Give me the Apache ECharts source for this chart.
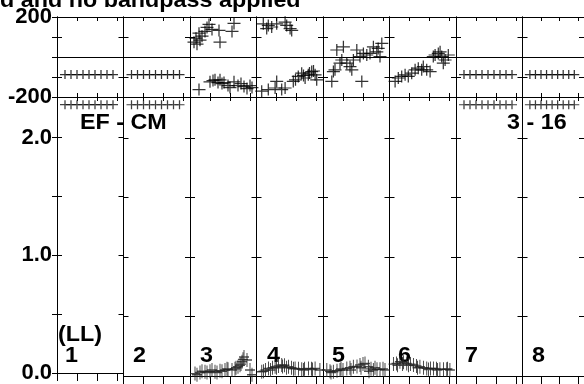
<!DOCTYPE html>
<html><head><meta charset="utf-8">
<script src="https://cdn.jsdelivr.net/npm/echarts@6/dist/echarts.min.js"></script>
<style>html,body{margin:0;padding:0;background:#fff}#c{width:584px;height:384px}</style>
</head><body><div id="c"></div>
<script>
// ---- data (channel, value) per IF panel ----
const panelNames = ['1','2','3','4','5','6','7','8'];
const phaseTickLabels = ['-200','200'];
const ampTickLabels = ['0.0','1.0','2.0'];
const titleText = 'd and no bandpass applied';
const baselineText = 'EF - CM';
const timeText = '3 - 16';
const polText = '(LL)';

const phaseIF1 = [[4,-88],[7,-88],[10,-88],[13,-88],[16,-88],[19,-88],[22,-88],[25,-88],[28,-88]];
const phaseIF2 = [[4,-88],[7,-88],[10,-88],[13,-88],[16,-88],[19,-88],[22,-88],[25,-88],[28,-88]];
const phaseIF3 = [[2,74],[3.5,64],[3,94],[5,84],[6,104],[4.5,119],[7.5,128],[8.5,148],[9.5,163],[11,138],[14.5,133],[15,74],[21,128],[22,168],
  [4.5,-163],[10,-124],[11.5,-118],[12.5,-114],[14,-128],[15,-114],[16,-133],[17,-128],[19,-143],[20,-153],[22,-124],[24,-143],[25.5,-133],[27,-148],[28.5,-158],[30,-143],[31,-153]];
const phaseIF4 = [[3.4,166],[5.1,142],[5.9,158],[7.6,150],[10.1,166],[14.3,174],[15.1,158],[16.8,142],[17.6,133],
  [2.6,-171],[5.9,-163],[9.3,-155],[10.1,-122],[12.6,-163],[14.3,-155],[18.4,-122],[19.5,-114],[20.9,-97],[22.6,-81],[23.5,-92],[24.3,-105],[25.9,-89],[26.5,-80],[27.6,-73],[28.5,-70],[29.3,-89],[30.1,-114]];
const phaseIF5 = [[6.9,35],[10.2,51],[9.4,-15],[8.5,-31],[11.9,-31],[13.5,-48],[15.2,-15],[16.9,35],[18.5,2],[20.2,18],[21.9,10],[23.5,18],[25.2,51],[26.9,26],[28.5,2],[29.4,68],[5.2,-73],[4.4,-122],[19.4,-122],[6,-64],[14.4,-64],[27.6,43]];
const phaseIF6 = [[2.8,-122],[4.4,-105],[6.1,-97],[7.8,-89],[9.4,-97],[11.1,-81],[12.8,-64],[14.4,-56],[16.1,-64],[16.9,-48],[18.6,-64],[20.3,-73],[22.8,10],[24.4,18],[26.1,2],[27.8,-15],[29.4,10],[26.9,-31],[21.9,2],[25.3,26]];
const phaseIF7 = [[4,-88],[7,-88],[10,-88],[13,-88],[16,-88],[19,-88],[22,-88],[25,-88],[28,-88]];
const phaseIF8 = [[4,-88],[7,-88],[10,-88],[13,-88],[16,-88],[19,-88],[22,-88],[25,-88],[28,-88]];

const ampIF1 = [[4,2.28],[7,2.28],[10,2.28],[13,2.28],[16,2.28],[19,2.28],[22,2.28],[25,2.28],[28,2.28]];
const ampIF2 = [[4,2.28],[7,2.28],[10,2.28],[13,2.28],[16,2.28],[19,2.28],[22,2.28],[25,2.28],[28,2.28]];
const ampIF3 = [[2.5,0.02],[5,0.03],[7.5,0.036],[10,0.04],[12.5,0.036],[15,0.045],[17.5,0.05],[19,0.056],[22.5,0.06],[24,0.078],[25.5,0.1],[26,0.12],[26.5,0.14],[27,0.16],[28.5,0.134],[30,0.05],[31,0.01],
  [3.5,0.01],[6,0.04],[8.5,0.03],[11,0.05],[13.5,0.03],[16,0.04],[18.5,0.06],[21,0.05],[23,0.07],[25,0.09]];
const ampIF4 = [[2.6,0.036],[4.5,0.05],[6,0.064],[8,0.07],[9.3,0.078],[11,0.085],[12.6,0.092],[14,0.09],[16,0.078],[17.5,0.07],[19.3,0.064],[21,0.06],[22.6,0.056],[24,0.06],[26,0.064],[27.5,0.06],[29.3,0.064],[31.7,0.05],
  [3.5,0.04],[7,0.05],[10,0.07],[13,0.08],[15,0.07],[18.5,0.06],[23.5,0.05],[28,0.055]];
const ampIF5 = [[1.9,0.05],[3.5,0.04],[5.2,0.036],[7,0.045],[8.5,0.05],[10,0.05],[11.9,0.064],[13.5,0.07],[15.2,0.078],[17,0.08],[18.5,0.092],[20,0.1],[21,0.106],[22.7,0.078],[24,0.06],[25.2,0.05],[27,0.056],[28.5,0.056],[31,0.05],
  [4,0.03],[9,0.06],[14,0.05],[19,0.07],[23,0.04],[26,0.07],[30,0.06]];
const ampIF6 = [[2,0.1],[3.5,0.106],[5.2,0.12],[7,0.115],[8.6,0.106],[10.5,0.1],[12,0.092],[13.5,0.085],[15.2,0.078],[17,0.07],[18.6,0.064],[20.5,0.064],[22,0.064],[23.5,0.06],[25.2,0.056],[27,0.056],[28.6,0.056],[30.2,0.05],
  [4,0.09],[6.5,0.1],[9.5,0.09],[14,0.07],[19.5,0.055],[24,0.05],[29,0.06]];
const ampIF7 = [[4,2.28],[7,2.28],[10,2.28],[13,2.28],[16,2.28],[19,2.28],[22,2.28],[25,2.28],[28,2.28]];
const ampIF8 = [[4,2.28],[7,2.28],[10,2.28],[13,2.28],[16,2.28],[19,2.28],[22,2.28],[25,2.28],[28,2.28]];

const phaseData = [phaseIF1,phaseIF2,phaseIF3,phaseIF4,phaseIF5,phaseIF6,phaseIF7,phaseIF8];
const ampData = [ampIF1,ampIF2,ampIF3,ampIF4,ampIF5,ampIF6,ampIF7,ampIF8];
const densePanels = [false,false,true,true,true,true,false,false];

// ---- layout ----
const LEFT0 = 57, PW = 66.5;
const PH_TOP = 17, PH_H = 80, AMP_TOP = 97, AMP_H = 279;
const CH_MAX = 33.25;
const AMP_MAX = 2.345;
const FONT = 'Liberation Sans';
const PLUS = 'path://M0,5L10,5M5,0L5,10';

const grids = [], xAxes = [], yAxes = [], series = [];
function xAx(g, pos, inside, len) {
  return {type:'value', gridIndex:g, position:pos, min:0, max:CH_MAX, interval:10,
    axisLine:{show:true, onZero:false, lineStyle:{color:'#000', width:1}},
    axisTick:{show:true, inside:inside, length:len, lineStyle:{color:'#000', width:1}},
    axisLabel:{show:false}, splitLine:{show:false}};
}
function yAx(g, pos, isPhase, inside, showLabel) {
  return {type:'value', gridIndex:g, position:pos,
    min:isPhase?-200:0, max:isPhase?200:AMP_MAX, interval:isPhase?100:0.5,
    axisLine:{show:true, onZero:false, lineStyle:{color:'#000', width:1}},
    axisTick:{show:true, inside:inside, length:5, lineStyle:{color:'#000', width:1}},
    axisLabel:{show:showLabel, margin:5, color:'#000', fontFamily:FONT, fontWeight:'bold', fontSize:22,
      formatter: function(v){
        if (isPhase) { const s = String(Math.round(v)); return phaseTickLabels.indexOf(s) >= 0 ? s : ''; }
        const s = v.toFixed(1); return (Math.abs(v - Math.round(v)) < 1e-6 && ampTickLabels.indexOf(s) >= 0) ? s : '';
      }},
    splitLine:{show:false}};
}

for (let i = 0; i < 8; i++) {
  const left = LEFT0 + i * PW;
  grids.push({left:left, top:PH_TOP, width:PW, height:PH_H});
  grids.push({left:left, top:AMP_TOP, width:PW, height:AMP_H});
}
for (let g = 0; g < 16; g++) {
  const isPhase = g % 2 === 0;
  xAxes.push(xAx(g, 'bottom', isPhase, isPhase ? 4 : 8));
  xAxes.push(xAx(g, 'top', true, 4));
  yAxes.push(yAx(g, 'left', isPhase, true, false));
  yAxes.push(yAx(g, 'right', isPhase, true, false));
}
yAxes.push(yAx(0, 'left', true, false, true));
yAxes.push(yAx(1, 'left', false, false, true));

for (let i = 0; i < 8; i++) {
  const gP = 2*i, gA = 2*i+1;
  const dense = densePanels[i];
  series.push({type:'scatter', xAxisIndex:2*gP, yAxisIndex:2*gP, data:phaseData[i],
    symbol:PLUS, symbolSize: dense ? [13,12] : [10,9], silent:true, animation:false, clip:false,
    itemStyle:{color:'transparent', borderColor: '#000', borderWidth:1.2},
    markLine:{silent:true, symbol:'none', animation:false, label:{show:false},
      lineStyle:{color:'#000', width:1, type:'solid'}, data:[{yAxis:0}]}});
  series.push({type:'scatter', xAxisIndex:2*gA, yAxisIndex:2*gA, data:ampData[i],
    symbol:PLUS, symbolSize: dense ? [10,14] : [10,9], silent:true, animation:false, clip:false,
    itemStyle:{color:'transparent', borderColor: dense ? '#222' : '#111', borderWidth:1.2}});
}

const txt = (text, x, y) => ({type:'text', x:x, y:y, scaleX:1.06, silent:true,
  style:{text:text, fill:'#000', font:'bold 22px "Liberation Sans"'}});
const graphics = [
  txt(titleText, 0, -10),
  txt(baselineText, 80, 112),
  txt(timeText, 507, 112),
  txt(polText, 58, 324)
];
const numX = [65,133,200,267,332,398,465,532];
for (let i = 0; i < 8; i++) graphics.push(txt(panelNames[i], numX[i], 345));

const chart = echarts.init(document.getElementById('c'), null, {renderer:'canvas'});
chart.setOption({animation:false, backgroundColor:'#fff', grid:grids, xAxis:xAxes, yAxis:yAxes, series:series, graphic:graphics});
</script></body></html>
